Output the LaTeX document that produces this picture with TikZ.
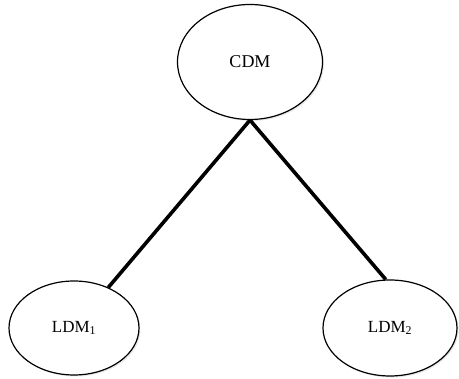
\documentclass[tikz,border=0pt]{standalone}
\usepackage{fontspec}
\setmainfont{Liberation Serif}
\usetikzlibrary{shapes.geometric,shadows}

\tikzset{
  dm/.style={draw,ellipse,line width=1.2pt,fill=white,inner sep=0pt,
    drop shadow={opacity=0.18,shadow xshift=1.5pt,shadow yshift=-1.5pt}},
  link/.style={line width=3.6pt}
}

\begin{document}
\begin{tikzpicture}[x=1pt,y=1pt]
\useasboundingbox (0,0) rectangle (459,379);
   \node[dm,minimum width=145,minimum height=115,font=\fontsize{18}{20}\selectfont] at (250,317) (CDM) {CDM};
   \node[dm,minimum width=130,minimum height=94,font=\fontsize{17}{20}\selectfont] at (74,51) (LDM1) {LDM\textsubscript{1}};
   \node[dm,minimum width=134,minimum height=96,font=\fontsize{17}{20}\selectfont] at (390,51) (LDM2) {LDM\textsubscript{2}};

   \draw[link] (CDM.south) -- (LDM1);
   \draw[link] (CDM.south) -- (LDM2.95);

\end{tikzpicture}
\end{document}
